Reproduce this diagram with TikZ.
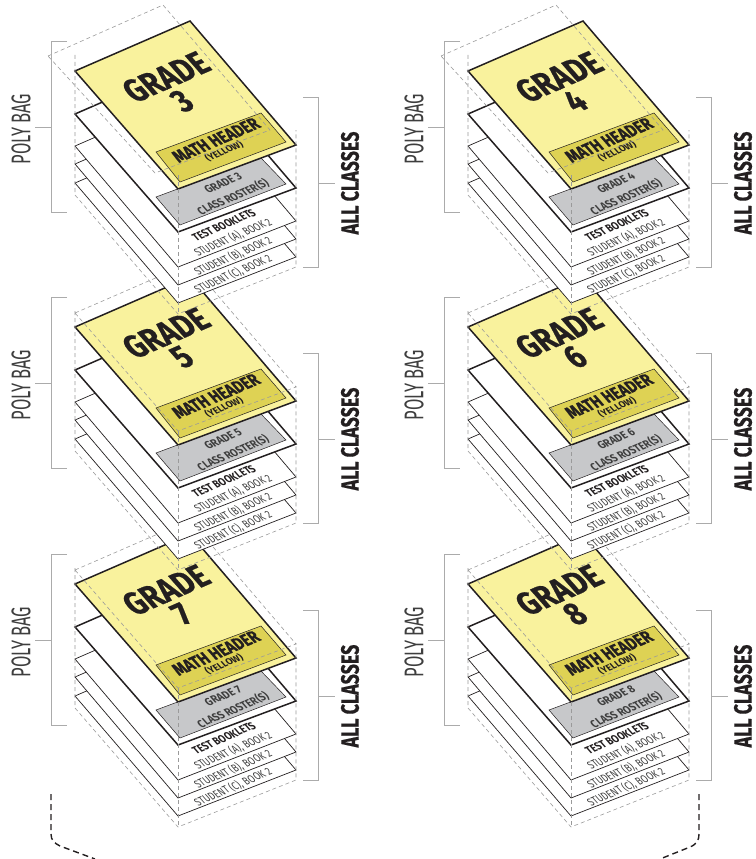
\documentclass[tikz,border=0pt]{standalone}
\usepackage{fontspec}
\setmainfont{Fira Sans}
\newfontfamily\heavyfam[BoldFeatures={FakeBold=0.6}]{Fira Sans}
\definecolor{sheetyellow}{HTML}{F9F29D}
\definecolor{headyellow}{HTML}{DED254}
\definecolor{rostergray}{HTML}{C7C8CA}
\definecolor{brackgray}{HTML}{ABABAB}
\definecolor{dashgray}{HTML}{9A9A9A}
\definecolor{ink}{HTML}{231F20}
\definecolor{softink}{HTML}{3E3E3E}
\tikzset{
  x=1pt,y=-1pt,
  iso/.style={cm={0.917,0.399,-0.661,0.751,(0,0)},transform shape,inner sep=0pt,anchor=center,text=ink},
  upr/.style={rotate=90,transform shape,inner sep=0pt,anchor=center,text=ink},
  thicksheet/.style={draw=ink,line width=1.5pt,line join=miter},
  thinsheet/.style={draw=ink,line width=0.7pt,fill=white,line join=miter},
  bagline/.style={draw=dashgray,line width=0.6pt,dash pattern=on 4pt off 3pt},
  bracket/.style={draw=brackgray,line width=0.9pt},
  tie/.style={draw=ink,line width=1.4pt,dash pattern=on 6pt off 4pt},
}
\newcommand{\stack}[5]{%
\begin{scope}[shift={(#2,#3)}]
  \draw[thinsheet] (75,183)--(190,133)--(296,257)--(178,303)--cycle;
  \draw[thinsheet] (75,164)--(190,114)--(296,239)--(178,285)--cycle;
  \draw[thinsheet] (75,146)--(190,96)--(296,221)--(178,267)--cycle;
  \draw[thicksheet,fill=white] (75,114)--(190,64)--(296,188)--(178,232)--cycle;
  \draw[draw=ink,line width=0.5pt,fill=rostergray] (156,197)--(261,158)--(286,184)--(180,225)--cycle;
  \node[iso,xscale=.83,font=\fontsize{12}{13}\selectfont\bfseries,text=softink] (#1a) at (223,183) {GRADE #4};
  \node[iso,xscale=.8,font=\fontsize{12}{13}\selectfont\bfseries,text=softink] (#1b) at (233,197) {CLASS ROSTER(S)};
  \node[iso,xscale=.77,font=\fontsize{12}{13}\selectfont\bfseries] (#1c) at (224,225) {TEST BOOKLETS};
  \node[iso,xscale=.72,font=\fontsize{12}{13}\selectfont,text=softink] (#1d) at (233,237.5) {STUDENT (A), BOOK 2};
  \node[iso,xscale=.72,font=\fontsize{12}{13}\selectfont,text=softink] (#1e) at (233,256) {STUDENT (B), BOOK 2};
  \node[iso,xscale=.72,font=\fontsize{12}{13}\selectfont,text=softink] (#1f) at (233,274) {STUDENT (C), BOOK 2};
  \draw[thicksheet,fill=sheetyellow] (75,71)--(190,21)--(296,145)--(178,189)--cycle;
  \draw[draw=ink,line width=0.5pt,fill=headyellow] (156,152)--(261,113)--(286,142)--(180,182)--cycle;
  \node[iso,xscale=.78,font=\fontsize{36}{38}\selectfont\heavyfam\bfseries] (#1g) at (166,77) {GRADE};
  \node[iso,xscale=.78,font=\fontsize{36}{38}\selectfont\heavyfam\bfseries] (#1h) at (182,101) {#4};
  \node[iso,xscale=.75,font=\fontsize{19}{21}\selectfont\heavyfam\bfseries] (#1i) at (216,140) {MATH HEADER};
  \node[iso,xscale=.91,font=\fontsize{10}{11}\selectfont\bfseries] (#1j) at (224,151) {(YELLOW)};
  \ifnum#5=1
    \draw[bagline] (48,56)--(163,5)--(270,130)--(155,173)--cycle;
  \else
    \draw[bagline] (75,57)--(190,7)--(296,131)--(178,175)--cycle;
  \fi
  \draw[bagline] (75,55)--(75,195)--(178,314)--(296,267)--(296,130);
  \draw[bagline] (178,175)--(178,314);
  \draw[bracket] (67,41)--(51,41)--(51,212)--(67,212);
  \draw[bracket] (35,127)--(51,127);
  \draw[bracket] (303,97)--(318,97)--(318,267)--(303,267);
  \draw[bracket] (318,183)--(335,183);
  \node[upr,xscale=.61,font=\fontsize{27}{29}\selectfont,text=softink] (#1k) at (21,129) {POLY BAG};
  \node[upr,xscale=.715,font=\fontsize{25}{27}\selectfont\heavyfam\bfseries] (#1l) at (350,183) {ALL CLASSES};
\end{scope}}
\begin{document}
\begin{tikzpicture}
\useasboundingbox (0,0) rectangle (755,859);
\stack{s}{0}{513}{7}{2}
\stack{t}{393}{513}{8}{2}
\stack{u}{0}{256}{5}{2}
\stack{v}{393}{256}{6}{2}
\stack{w}{0}{0}{3}{1}
\stack{z}{393}{0}{4}{1}
\coordinate (la) at (51,794);
\coordinate (lb) at (95,859);
\coordinate (ra) at (699,794);
\coordinate (rb) at (660,859);
\draw[tie] (la)--(51,834) .. controls (51,840) and (54,843) .. (60,846) -- (lb);
\draw[tie] (ra)--(699,834) .. controls (699,840) and (697,844) .. (690,847) -- (rb);
\end{tikzpicture}
\end{document}
